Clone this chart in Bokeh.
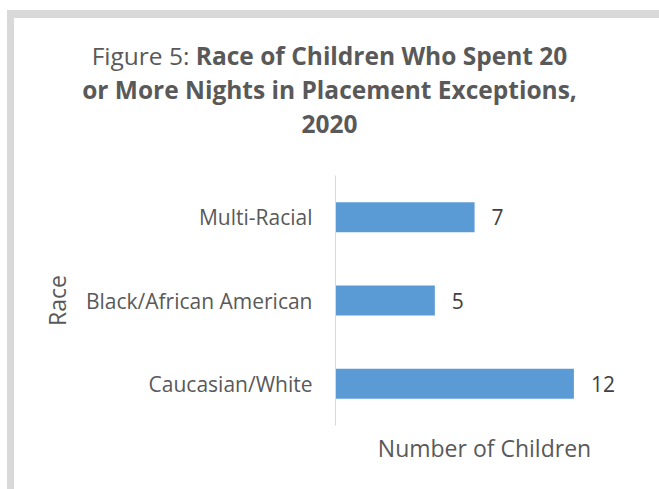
from bokeh.plotting import figure
from bokeh.layouts import column
from bokeh.models import FactorRange, Range1d, LabelSet, FixedTicker, ColumnDataSource, Div
from bokeh.core.properties import value
from bokeh.embed import file_html
from bokeh.resources import INLINE

# data
categories = ["Caucasian/White", "Black/African American", "Multi-Racial"]
counts = [12, 5, 7]
value_labels = [str(v) for v in counts]
title_prefix = "Figure 5:"
title_line1 = "Race of Children Who Spent 20"
title_line2 = "or More Nights in Placement Exceptions,"
title_line3 = "2020"
x_title = "Number of Children"
y_title = "Race"

W, H = 659, 489
DIV_H = 150
FL, FR, FT, FB = 335, 633, 175, 425   # frame edges in page pixels
FONT = "Open Sans"
TXT = "#595959"
GRAY = "#d9d9d9"

src = ColumnDataSource(dict(cat=categories, val=counts, lbl=value_labels))

p = figure(width=W, height=H - DIV_H, y_range=FactorRange(factors=categories, range_padding=0),
           x_range=Range1d(0, 15), output_backend="svg", toolbar_location=None,
           min_border_left=FL, min_border_right=W - FR, min_border_top=FT - DIV_H,
           min_border_bottom=H - FB)
p.outline_line_color = None
p.xgrid.visible = False
p.ygrid.visible = False
p.background_fill_color = "white"
p.border_fill_color = None

p.hbar(y="cat", right="val", height=0.36, source=src, fill_color="#5b9bd5", line_color=None)

p.add_layout(LabelSet(x="val", y="cat", text="lbl", source=src, x_offset=17,
                      text_baseline="middle", text_font=value(FONT), text_font_size="21px",
                      text_color="#404040"))

ya = p.yaxis[0]
ya.axis_line_color = GRAY
ya.major_tick_line_color = None
ya.minor_tick_line_color = None
ya.major_label_text_font = FONT
ya.major_label_text_font_size = "21px"
ya.major_label_text_color = TXT
ya.major_label_standoff = 17
ya.axis_label = y_title
ya.axis_label_text_font = FONT
ya.axis_label_text_font_size = "23px"
ya.axis_label_text_font_style = "normal"
ya.axis_label_text_color = TXT
ya.axis_label_standoff = 10

xa = p.xaxis[0]
xa.ticker = FixedTicker(ticks=[])
xa.axis_line_color = None
xa.major_tick_line_color = None
xa.minor_tick_line_color = None
xa.major_tick_out = 0
xa.major_label_standoff = 0
xa.axis_label = x_title
xa.axis_label_text_font = FONT
xa.axis_label_text_font_size = "23px"
xa.axis_label_text_font_style = "normal"
xa.axis_label_text_color = TXT
xa.axis_label_standoff = 6

title_html = (
    f'<div style="font-family:\'{FONT}\';font-size:24.5px;line-height:34px;color:{TXT};'
    f'text-align:center;width:{W - 12}px;padding-left:12px;padding-top:39px;white-space:nowrap;">'
    f'{title_prefix} <b>{title_line1}</b><br><b>{title_line2}</b><br><b>{title_line3}</b></div>'
)
title = Div(text=title_html, width=W, height=DIV_H, margin=0)

layout = column(title, p, width=W, height=H, spacing=0,
                styles={"background": (f"linear-gradient({GRAY},{GRAY}) 7px 10px / 7px 100% no-repeat, "
                                       f"linear-gradient({GRAY},{GRAY}) 7px 10px / 100% 8px no-repeat, white")})

open("out.html", "w").write(file_html(layout, INLINE))
